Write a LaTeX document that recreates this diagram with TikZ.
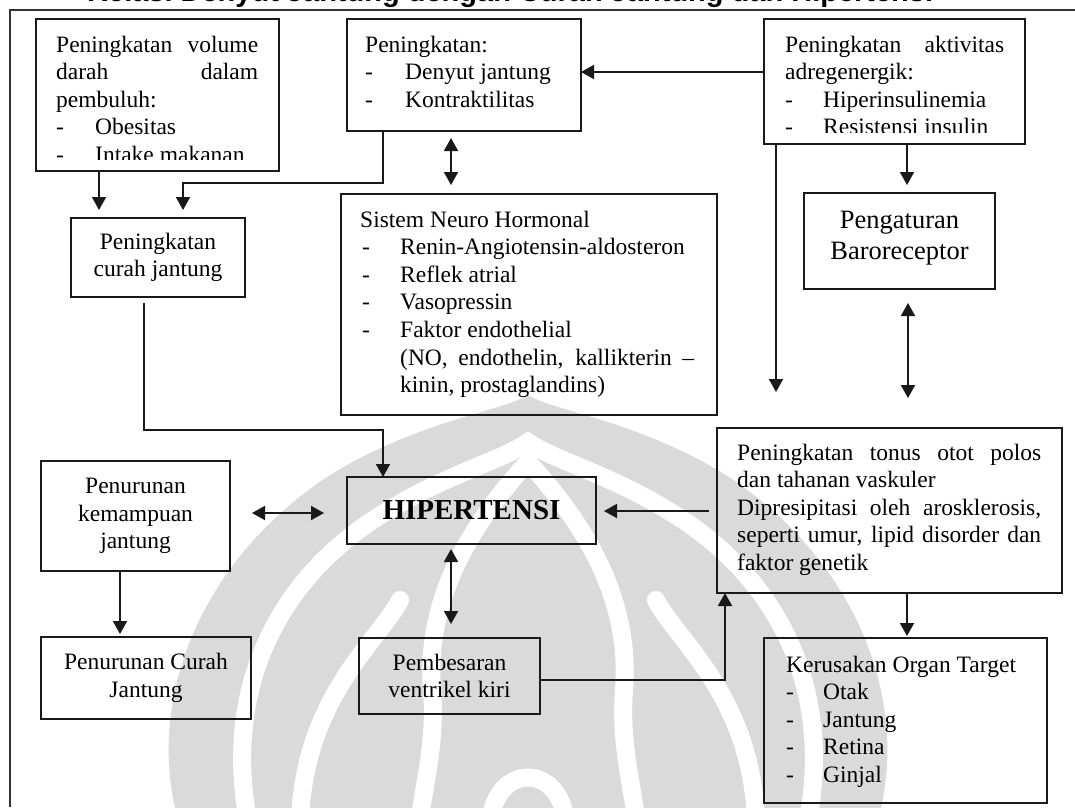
\documentclass[tikz,border=0pt]{standalone}
\usepackage{fontspec}
\setmainfont{Liberation Serif}
\newfontfamily\titlefont{Liberation Sans}
\usetikzlibrary{arrows.meta,fit,calc}
\newcommand\bodyfs{\fontsize{23.5pt}{27.6pt}\selectfont}
\definecolor{wm}{RGB}{218,218,218}
\begin{document}
\begin{tikzpicture}[x=1pt,y=-1pt,
  box/.style={draw=black!90, line width=1.8pt, inner sep=0pt, outer sep=0pt},
  tx/.style={inner sep=0pt, anchor=base west, font=\bodyfs},
  ctx/.style={inner sep=0pt, align=center, font=\bodyfs},
  conn/.style={line width=1.8pt, draw=black!90, -{Triangle[length=13pt,width=14pt]}},
  dconn/.style={line width=1.8pt, draw=black!90, {Triangle[length=13pt,width=14pt]}-{Triangle[length=13pt,width=14pt]}},
  wband/.style={draw=white, line width=18pt, line cap=round},
]
\useasboundingbox (0,0) rectangle (1075,807);
\clip (0,0) rectangle (1075,807);

% watermark (light grey emblem in the background)
\begin{scope}
\clip (0,0) rectangle (1075,807);
\fill[wm] (178,820) .. controls (145,700) and (200,560) .. (330,475)
  .. controls (420,420) and (500,412) .. (528,395)
  .. controls (556,412) and (636,420) .. (726,475)
  .. controls (856,560) and (911,700) .. (878,820) -- cycle;
\draw[wband] (250,830) .. controls (222,700) and (270,590) .. (370,522)
  .. controls (440,475) and (500,462) .. (528,442)
  .. controls (556,462) and (616,475) .. (686,522)
  .. controls (786,590) and (834,700) .. (806,830);
\draw[wband] (528,462) .. controls (470,525) and (425,600) .. (432,690)
  .. controls (436,740) and (425,780) .. (418,830);
\draw[wband] (528,462) .. controls (586,525) and (631,600) .. (624,690)
  .. controls (620,740) and (631,780) .. (638,830);
\draw[wband] (300,830) .. controls (300,700) and (380,640) .. (400,600);
\draw[wband] (756,830) .. controls (756,700) and (676,640) .. (656,600);
\draw[wband] (490,830) .. controls (490,760) and (566,760) .. (566,830);
\end{scope}

% title (cut off at the top)
\node[font=\titlefont\bfseries\fontsize{29pt}{32pt}\selectfont, anchor=base west, inner sep=0pt] (title) at (87,1.5) {Relasi Denyut Jantung dengan Curah Jantung dan Hipertensi};

% frame
\draw[line width=1.5pt, black!80] (10,807) -- (10,10) -- (1075,10);

% boxes
\node[box, fit={(36,19) (279,171)}] (A) {};
\node[box, fit={(347,19) (581,131)}] (B) {};
\node[box, fit={(764,19) (1025,144)}] (C) {};
\node[box, fit={(804,193) (995,289)}] (R) {};
\node[box, fit={(71,218) (245,297)}] (D) {};
\node[box, fit={(341,194) (717,415)}] (E) {};
\node[box, fit={(41,461) (230,571)}] (F) {};
\node[box, fit={(347,477) (596,544)}] (H) {};
\node[box, fit={(41,637) (251,719)}] (G) {};
\node[box, fit={(359,638) (540,714)}] (I) {};
\node[box, fit={(717,428) (1062,593)}] (J) {};
\node[box, fit={(764,638) (1047,803)}] (K) {};

% box A text
\node[tx] (A1) at (56,52) {\makebox[202pt][s]{Peningkatan volume}};
\node[tx] (A2) at (56,79.6) {\makebox[202pt][s]{darah dalam}};
\node[tx] (A3) at (56,107.2) {pembuluh:};
\node[tx] (A4a) at (56,134.8) {-};
\node[tx] (A4b) at (95,134.8) {Obesitas};
\begin{scope}
\clip (A.north west) rectangle (A.east |- 0,159);
\node[tx] (A5a) at (56,162.4) {-};
\node[tx] (A5b) at (95,162.4) {Intake makanan};
\end{scope}

% box B text
\node[tx] (B1) at (365,52) {Peningkatan:};
\node[tx] (B2a) at (365,79.6) {-};
\node[tx] (B2b) at (405,79.6) {Denyut jantung};
\node[tx] (B3a) at (365,107.2) {-};
\node[tx] (B3b) at (405,107.2) {Kontraktilitas};

% box C text
\node[tx] (C1) at (785,52) {\makebox[219pt][s]{Peningkatan aktivitas}};
\node[tx] (C2) at (785,79.6) {adregenergik:};
\node[tx] (C3a) at (785,107.2) {-};
\node[tx] (C3b) at (823,107.2) {Hiperinsulinemia};
\begin{scope}
\clip (C.north west) rectangle (C.east |- 0,132);
\node[tx] (C4a) at (785,134.8) {-};
\node[tx] (C4b) at (823,134.8) {Resistensi insulin};
\end{scope}

% box R text
\node[inner sep=0pt, align=center, font=\fontsize{26.5pt}{31pt}\selectfont] (Rt) at ($(R.center)+(0,-3)$) {Pengaturan\\Baroreceptor};

% box D text
\node[ctx] (Dt) at (D.center) {Peningkatan\\curah jantung};

% box E text
\node[tx] (E1) at (360,227) {Sistem Neuro Hormonal};
\node[tx] (E2a) at (362,254.6) {-};
\node[tx] (E2b) at (400,254.6) {Renin-Angiotensin-aldosteron};
\node[tx] (E3a) at (362,282.2) {-};
\node[tx] (E3b) at (400,282.2) {Reflek atrial};
\node[tx] (E4a) at (362,309.8) {-};
\node[tx] (E4b) at (400,309.8) {Vasopressin};
\node[tx] (E5a) at (362,337.4) {-};
\node[tx] (E5b) at (400,337.4) {Faktor endothelial};
\node[tx] (E6) at (400,365) {\makebox[294pt][s]{(NO, endothelin, kallikterin --}};
\node[tx] (E7) at (400,392.6) {kinin, prostaglandins)};

% box F, G, I text
\node[ctx] (Ft) at (F.center) {Penurunan\\kemampuan\\jantung};
\node[ctx] (Gt) at (G.center) {Penurunan Curah\\Jantung};
\node[ctx] (It) at (I.center) {Pembesaran\\ventrikel kiri};

% HIPERTENSI
\node[inner sep=0pt, font=\bfseries\fontsize{29pt}{33pt}\selectfont] (Ht) at (H.center) {HIPERTENSI};

% box J text
\node[tx] (J1) at (737,460) {\makebox[304pt][s]{Peningkatan tonus otot polos}};
\node[tx] (J2) at (737,487.6) {dan tahanan vaskuler};
\node[tx] (J3) at (737,515.2) {\makebox[304pt][s]{Dipresipitasi oleh arosklerosis,}};
\node[tx] (J4) at (737,542.8) {\makebox[304pt][s]{seperti umur, lipid disorder dan}};
\node[tx] (J5) at (737,570.4) {faktor genetik};

% box K text
\node[tx] (K1) at (786,672) {Kerusakan Organ Target};
\node[tx] (K2a) at (786,699.6) {-};
\node[tx] (K2b) at (823,699.6) {Otak};
\node[tx] (K3a) at (786,727.2) {-};
\node[tx] (K3b) at (823,727.2) {Jantung};
\node[tx] (K4a) at (786,754.8) {-};
\node[tx] (K4b) at (823,754.8) {Retina};
\node[tx] (K5a) at (786,782.4) {-};
\node[tx] (K5b) at (823,782.4) {Ginjal};

% connectors
\draw[conn] (C.west |- 0,72) -- (B.east |- 0,72);
\draw[conn, shorten >=8pt] (C.south -| 907,0) -- (R.north -| 907,0);
\coordinate (Cend) at (776,392);
\draw[conn] (C.south -| 776,0) -- (Cend);
\draw[dconn, shorten <=14pt, shorten >=30pt] (R.south -| 908,0) -- (J.north -| 908,0);
\draw[dconn, shorten <=7pt, shorten >=9pt] (B.south -| 451,0) -- (E.north -| 451,0);
\draw[conn, shorten >=8pt] (A.south -| 99,0) -- (D.north -| 99,0);
\draw[conn, shorten >=8pt] (B.south -| 383,0) -- (383,183) -- (183,183) -- (D.north -| 183,0);
\draw[conn, shorten <=6pt] (D.south -| 144,0) -- (144,430) -- (383,430) -- (H.north -| 383,0);
\draw[dconn, shorten <=22pt, shorten >=23pt] (F.east |- 0,513) -- (H.west |- 0,513);
\draw[conn, shorten <=8pt, shorten >=8pt] (J.west |- 0,511) -- (H.east |- 0,511);
\draw[conn, shorten >=3pt] (F.south -| 120,0) -- (G.north -| 120,0);
\draw[dconn, shorten <=5pt, shorten >=14pt] (H.south -| 451,0) -- (I.north -| 451,0);
\draw[conn] (I.east |- 0,680) -- (725,680) -- (J.south -| 725,0);
\draw[conn, shorten >=2pt] (J.south -| 907,0) -- (K.north -| 907,0);
\end{tikzpicture}
\end{document}
